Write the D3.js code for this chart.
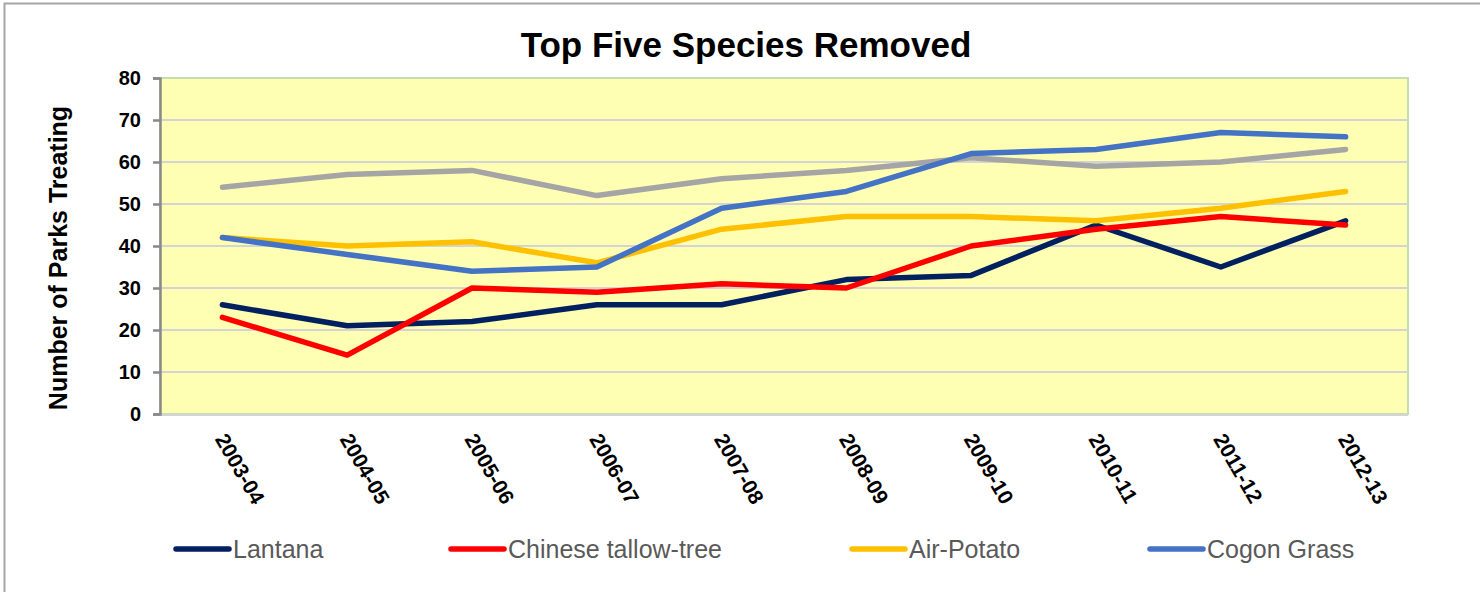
<!DOCTYPE html>
<html>
<head>
<meta charset="utf-8">
<script src="https://cdn.jsdelivr.net/npm/d3@7"></script>
<style>
  body { margin: 0; background: #fff; }
  svg { font-family: "Liberation Sans", Arial, sans-serif; }
</style>
</head>
<body>
<svg id="chart" width="1480" height="592"></svg>
<script>
// data
var years = ['2003-04', '2004-05', '2005-06', '2006-07', '2007-08',
             '2008-09', '2009-10', '2010-11', '2011-12', '2012-13'];
var lantana = [26, 21, 22, 26, 26, 32, 33, 45, 35, 46];
var tallow = [23, 14, 30, 29, 31, 30, 40, 44, 47, 45];
var airPotato = [42, 40, 41, 36, 44, 47, 47, 46, 49, 53];
var cogon = [42, 38, 34, 35, 49, 53, 62, 63, 67, 66];
var unlabeled = [54, 57, 58, 52, 56, 58, 61, 59, 60, 63];
var yTicks = [0, 10, 20, 30, 40, 50, 60, 70, 80];

// series, in drawing order (the grey one has no legend entry)
var series = [
  { name: '', values: unlabeled, color: '#a5a5a5', legend: false },
  { name: 'Lantana', values: lantana, color: '#002060', legend: true },
  { name: 'Chinese tallow-tree', values: tallow, color: '#ff0000', legend: true },
  { name: 'Air-Potato', values: airPotato, color: '#ffc000', legend: true },
  { name: 'Cogon Grass', values: cogon, color: '#4472c4', legend: true }
];

// layout
var plot = { left: 160, top: 78, right: 1408, bottom: 414 };

var svg = d3.select('#chart');

// outer frame
svg.append('rect')
  .attr('x', 4.5).attr('y', 3.5)
  .attr('width', 1480).attr('height', 600)
  .style('fill', 'none')
  .style('stroke', '#a6a6a6')
  .style('stroke-width', 2);

// scales
var x = d3.scaleBand().domain(years).range([plot.left, plot.right]);
var y = d3.scaleLinear().domain([0, 80]).range([plot.bottom, plot.top]);

// plot background
svg.append('rect')
  .attr('x', plot.left).attr('y', plot.top)
  .attr('width', plot.right - plot.left)
  .attr('height', plot.bottom - plot.top)
  .style('fill', '#ffffb3')
  .style('stroke', '#c3deb0')
  .style('stroke-width', 2);

// gridlines
svg.append('g')
  .selectAll('line')
  .data(yTicks.filter(function(d) { return d > 0 && d < 80; }))
  .enter()
  .append('line')
  .attr('x1', plot.left).attr('x2', plot.right)
  .attr('y1', function(d) { return y(d); })
  .attr('y2', function(d) { return y(d); })
  .style('stroke', '#d4d4d4')
  .style('stroke-width', 2);

// bottom edge
svg.append('line')
  .attr('x1', plot.left).attr('x2', plot.right)
  .attr('y1', plot.bottom + 1).attr('y2', plot.bottom + 1)
  .style('stroke', '#d4d4d4')
  .style('stroke-width', 2);

// y axis
var yAxis = svg.append('g')
  .attr('transform', 'translate(' + plot.left + ',0)')
  .call(d3.axisLeft(y).tickValues(yTicks).tickSize(7).tickPadding(12));
yAxis.select('.domain').style('stroke', '#898989').style('stroke-width', 2.5);
yAxis.selectAll('.tick line').style('stroke', '#898989').style('stroke-width', 2.5);
yAxis.selectAll('.tick text')
  .style('font-family', '"Liberation Sans", Arial, sans-serif')
  .style('font-size', '20px')
  .style('font-weight', 'bold')
  .style('fill', '#000');

// x axis labels, rotated
svg.append('g')
  .selectAll('text')
  .data(years)
  .enter()
  .append('text')
  .attr('transform', function(d) {
    return 'translate(' + (x(d) + x.bandwidth() / 2 - 8) + ',' + 439 + ') rotate(60)';
  })
  .style('font-size', '21px')
  .style('font-weight', 'bold')
  .style('fill', '#000')
  .text(function(d) { return d; });

// lines
var line = d3.line()
  .x(function(d, i) { return x(years[i]) + x.bandwidth() / 2; })
  .y(function(d) { return y(d); });

svg.append('g')
  .selectAll('path')
  .data(series)
  .enter()
  .append('path')
  .attr('d', function(d) { return line(d.values); })
  .style('fill', 'none')
  .style('stroke', function(d) { return d.color; })
  .style('stroke-width', 5.5)
  .style('stroke-linecap', 'round')
  .style('stroke-linejoin', 'round');

// title
svg.append('text')
  .attr('x', 746).attr('y', 57)
  .attr('text-anchor', 'middle')
  .style('font-size', '35px')
  .style('font-weight', 'bold')
  .style('fill', '#000')
  .text('Top Five Species Removed');

// y axis label
svg.append('text')
  .attr('transform', 'translate(67,258) rotate(-90)')
  .attr('text-anchor', 'middle')
  .style('font-size', '25px')
  .style('font-weight', 'bold')
  .style('fill', '#000')
  .text('Number of Parks Treating');

// legend
var legendX = [176, 451, 852, 1150];
var legend = svg.append('g')
  .selectAll('g')
  .data(series.filter(function(d) { return d.legend; }))
  .enter()
  .append('g')
  .attr('transform', function(d, i) { return 'translate(' + legendX[i] + ',549)'; });
legend.append('line')
  .attr('x1', 0).attr('x2', 53)
  .style('stroke', function(d) { return d.color; })
  .style('stroke-width', 5.5)
  .style('stroke-linecap', 'round');
legend.append('text')
  .attr('x', 57).attr('y', 9)
  .style('font-size', '25px')
  .style('fill', '#595959')
  .text(function(d) { return d.name; });
</script>
</body>
</html>
